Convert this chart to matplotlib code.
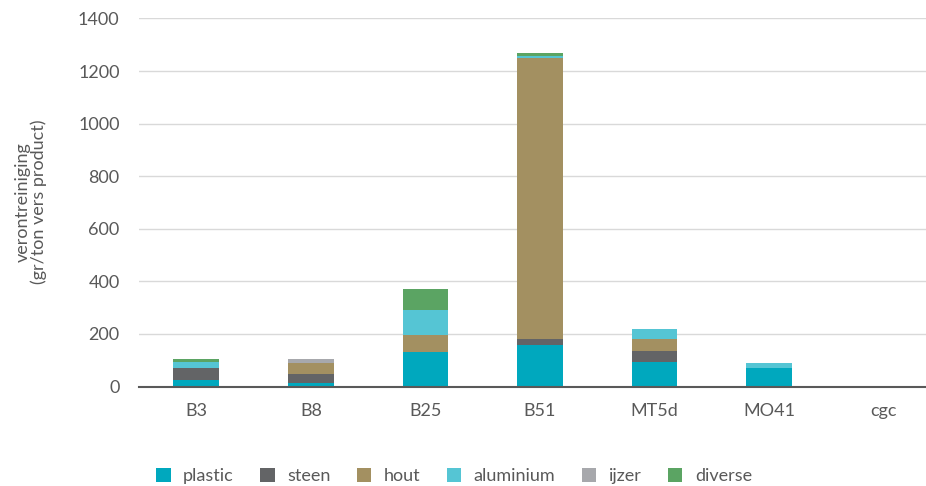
import numpy as np
import matplotlib.pyplot as plt

plt.rcParams['font.family'] = ['Lato', 'DejaVu Sans']

categories = ["B3", "B8", "B25", "B51", "MT5d", "MO41", "cgc"]
plastic = [25, 13, 132, 158, 94, 72, 0]
steen = [45, 36, 0, 23, 41, 0, 0]
hout = [0, 40, 64, 1069, 46, 0, 0]
aluminium = [23, 0, 95, 8, 38, 17, 0]
ijzer = [0, 15, 0, 0, 0, 0, 0]
diverse = [11, 0, 80, 10, 0, 0, 0]

series = [
    ("plastic", plastic, "#00A8BE"),
    ("steen", steen, "#636466"),
    ("hout", hout, "#A39061"),
    ("aluminium", aluminium, "#55C5D4"),
    ("ijzer", ijzer, "#A7A8AC"),
    ("diverse", diverse, "#5BA463"),
]

fig = plt.figure(figsize=(9.26, 4.86), dpi=100)
ax = fig.add_axes([139 / 926, (486 - 386.5) / 486, 802 / 926, 368 / 486])

x = np.arange(len(categories))
bottom = np.zeros(len(categories))
for name, vals, col in series:
    ax.bar(x, vals, 0.4, bottom=bottom, color=col, label=name, zorder=3)
    bottom += np.array(vals)

ax.set_xlim(-0.5, len(categories) - 0.5)
ax.set_ylim(0, 1400)
ax.set_yticks(range(0, 1401, 200))
ax.set_xticks(x)
ax.set_xticklabels(categories)
ax.grid(axis="y", color="#D9D9D9", linewidth=1, zorder=0)
for s in ["top", "right", "left"]:
    ax.spines[s].set_visible(False)
ax.spines["bottom"].set_color("#595959")
ax.spines["bottom"].set_linewidth(1.5)
ax.spines["bottom"].set_zorder(4)
ax.tick_params(axis="both", length=0, labelsize=13, colors="#595959")
ax.tick_params(axis="y", pad=14)
ax.tick_params(axis="x", pad=12)

fig.text(31 / 926, 1 - 202 / 486, "verontreiniging\n(gr/ton vers product)",
         rotation=90, ha="center", va="center", fontsize=13, color="#595959",
         linespacing=1.0)

fig.legend(loc="center", bbox_to_anchor=(454 / 926, 1 - 476 / 486), ncol=6,
           frameon=False, fontsize=13, labelcolor="#595959",
           handlelength=0.8, handleheight=0.8, handletextpad=0.7,
           columnspacing=1.45)

fig.savefig("out.png", dpi=100)
